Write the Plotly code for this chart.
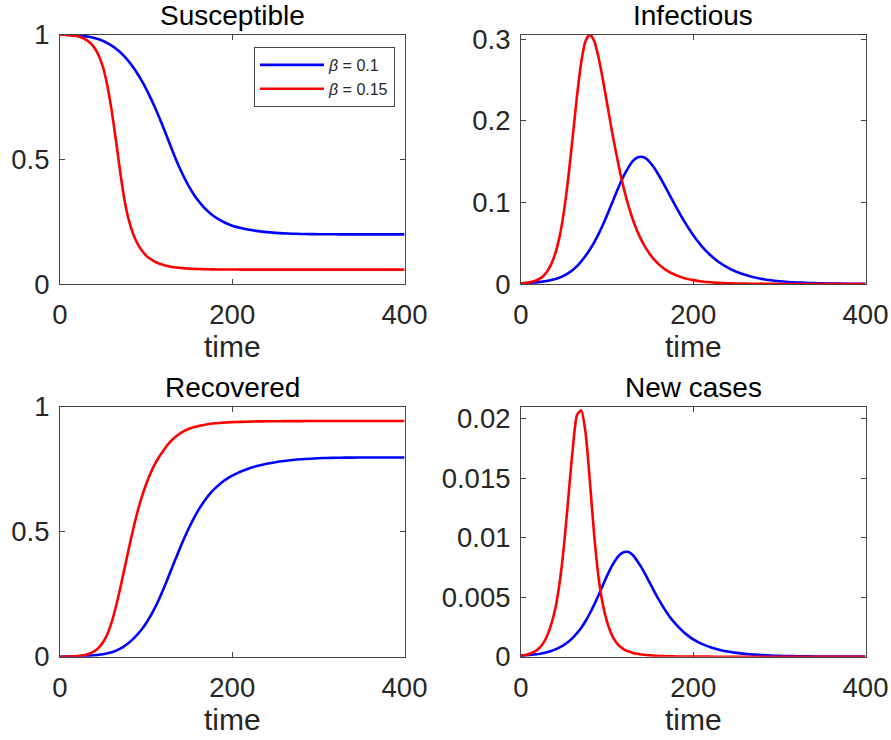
import plotly.graph_objects as go

# time grid (days)
time = [0, 5, 10, 15, 20, 25, 30, 35, 40, 45, 50, 55, 60, 65, 70, 75, 80, 85, 90, 95,
        100, 105, 110, 115, 120, 125, 130, 135, 140, 145, 150, 155, 160, 165, 170, 175,
        180, 185, 190, 195, 200, 210, 220, 230, 240, 250, 260, 270, 280, 290, 300,
        310, 320, 330, 340, 350, 360, 370, 380, 390, 400]

# beta = 0.1 (blue)
S_b01 = [0.999, 0.9988, 0.9982, 0.9972, 0.9961, 0.9946, 0.9925, 0.9896, 0.9857, 0.9806,
         0.974, 0.9657, 0.9555, 0.9432, 0.9286, 0.9114, 0.8914, 0.8685, 0.8426, 0.8137,
         0.7818, 0.7469, 0.7092, 0.669, 0.6268, 0.5833, 0.5393, 0.4963, 0.4568, 0.4213,
         0.3893, 0.3610, 0.3364, 0.3152, 0.2971, 0.2817, 0.2687, 0.2577, 0.2484, 0.2405,
         0.2338, 0.2243, 0.2171, 0.2118, 0.2079, 0.2051, 0.2031, 0.2017, 0.2007, 0.2000,
         0.1996, 0.1993, 0.1991, 0.1989, 0.1988, 0.1988, 0.1988, 0.1988, 0.1988, 0.1988, 0.1988]
I_b01 = [0.00088, 0.00109, 0.0014, 0.00179, 0.0023, 0.00295, 0.00379, 0.00487, 0.00625, 0.0080,
         0.0103, 0.0133, 0.0171, 0.0219, 0.0278, 0.0346, 0.0423, 0.0511, 0.0611, 0.0723,
         0.0845, 0.0973, 0.1103, 0.1228, 0.134, 0.1433, 0.1508, 0.155, 0.156, 0.154,
         0.1487, 0.1418, 0.1333, 0.124, 0.1142, 0.1042, 0.0945, 0.0851, 0.0762, 0.0677,
         0.0598, 0.0462, 0.0352, 0.0266, 0.0200, 0.0150, 0.0112, 0.0083, 0.0062, 0.0046,
         0.0034, 0.00253, 0.00188, 0.0014, 0.00104, 0.00077, 0.00057, 0.00042, 0.00031, 0.00023, 0.00017]
R_b01 = [0.0, 0.0002, 0.0005, 0.001, 0.0015, 0.0022, 0.003, 0.004, 0.0055, 0.0075,
         0.010, 0.0135, 0.018, 0.024, 0.032, 0.043, 0.056, 0.0715, 0.0895, 0.11,
         0.134, 0.162, 0.194, 0.23, 0.27, 0.312, 0.355, 0.398, 0.44, 0.48,
         0.517, 0.551, 0.582, 0.61, 0.634, 0.655, 0.673, 0.689, 0.703, 0.714,
         0.724, 0.741, 0.754, 0.764, 0.772, 0.778, 0.783, 0.787, 0.79, 0.792,
         0.794, 0.795, 0.7957, 0.7962, 0.7965, 0.7968, 0.797, 0.797, 0.797, 0.797, 0.797]
N_b01 = [0.000088, 0.000109, 0.00014, 0.000179, 0.000229, 0.000294, 0.000376, 0.000483, 0.000618, 0.000788,
         0.001, 0.00126, 0.00158, 0.00198, 0.00244, 0.0030, 0.00365, 0.004375, 0.005166, 0.005994,
         0.006812, 0.007546, 0.008144, 0.00858, 0.00879, 0.00879, 0.00853, 0.00805, 0.00748, 0.00683,
         0.00614, 0.00545, 0.00479, 0.00419, 0.00364, 0.00314, 0.00272, 0.00234, 0.00199, 0.00171,
         0.00146, 0.00108, 0.000794, 0.000585, 0.000432, 0.000319, 0.000236, 0.000174, 0.000129, 0.000096,
         0.0000712, 0.0000528, 0.0000392, 0.0000291, 0.0000216, 0.0000161, 0.000012, 0.0000089, 0.0000067,
         0.0000049, 0.0000037]

# beta = 0.15 (red)
S_b015 = [0.9993, 0.9988, 0.9976, 0.9958, 0.9927, 0.9877, 0.9794, 0.9669, 0.9465, 0.9147,
          0.8683, 0.795, 0.695, 0.575, 0.447, 0.335, 0.255, 0.20, 0.162, 0.134,
          0.114, 0.100, 0.090, 0.082, 0.0765, 0.072, 0.0685, 0.066, 0.0642, 0.0628,
          0.0617, 0.0608, 0.0601, 0.0596, 0.0592, 0.0588, 0.0585, 0.0583, 0.0581, 0.058,
          0.0579, 0.0578, 0.0577, 0.0576, 0.0576, 0.0575, 0.0575, 0.0575, 0.0575, 0.0575,
          0.0575, 0.0575, 0.0575, 0.0575, 0.0575, 0.0575, 0.0575, 0.0575, 0.0575, 0.0575, 0.0575]
I_b015 = [0.0007, 0.0012, 0.002, 0.0033, 0.0055, 0.009, 0.0148, 0.024, 0.038, 0.059,
          0.09, 0.131, 0.18, 0.23, 0.272, 0.298, 0.3058, 0.298, 0.278, 0.251,
          0.221, 0.191, 0.163, 0.137, 0.1145, 0.095, 0.0785, 0.0648, 0.0534, 0.0439,
          0.0360, 0.0295, 0.0241, 0.0197, 0.0161, 0.01316, 0.01073, 0.00875, 0.00713, 0.00582,
          0.00474, 0.00315, 0.0021, 0.0014, 0.00093, 0.00062, 0.00041, 0.00027, 0.00018, 0.00012,
          0.00008, 0.000053, 0.000036, 0.000024, 0.000016, 0.00001, 0.000007, 0.000005, 0.000003,
          0.000002, 0.0000014]
R_b015 = [0.0, 0.0001, 0.0005, 0.0012, 0.0025, 0.0045, 0.008, 0.013, 0.022, 0.036,
          0.058, 0.090, 0.138, 0.201, 0.275, 0.354, 0.434, 0.510, 0.579, 0.639,
          0.690, 0.733, 0.769, 0.799, 0.824, 0.848, 0.867, 0.882, 0.894, 0.904,
          0.9115, 0.9175, 0.9222, 0.926, 0.929, 0.9315, 0.9335, 0.935, 0.9363, 0.9373,
          0.9381, 0.9395, 0.9405, 0.9412, 0.9417, 0.942, 0.9422, 0.9424, 0.9425, 0.9426,
          0.9426, 0.9427, 0.9427, 0.9427, 0.9427, 0.9427, 0.9427, 0.9427, 0.9427, 0.9427, 0.9427]
N_b015 = [0.0001, 0.00015, 0.00025, 0.0004, 0.00065, 0.00105, 0.0017, 0.0027, 0.0041, 0.0063,
          0.0094, 0.0134, 0.0174, 0.0203, 0.0207, 0.0188, 0.0147, 0.0102, 0.0067, 0.0044,
          0.0029, 0.0019, 0.00125, 0.00085, 0.0006, 0.00043, 0.00032, 0.00024, 0.00018, 0.00014,
          0.00011, 0.00008, 0.00006, 0.000045, 0.000035, 0.000027, 0.00002, 0.000015, 0.000012,
          0.000009, 0.000007, 0.000004, 0.0000025, 0.0000015, 0.000001, 0.0000006, 0.0000004,
          0.0000002, 0.0000001, 0.0000001, 0.0, 0.0, 0.0, 0.0, 0.0, 0.0, 0.0, 0.0, 0.0, 0.0, 0.0]

series_names = ["<i>β</i> = 0.1", "<i>β</i> = 0.15"]
series_colors = ["#0000FF", "#FF0000"]
panel_titles = ["Susceptible", "Infectious", "Recovered", "New cases"]
x_ticks = [0, 200, 400]
y_ticks = [[0, 0.5, 1], [0, 0.1, 0.2, 0.3], [0, 0.5, 1], [0, 0.005, 0.01, 0.015, 0.02]]
y_ticktext = [["0", "0.5", "1"], ["0", "0.1", "0.2", "0.3"], ["0", "0.5", "1"],
              ["0", "0.005", "0.01", "0.015", "0.02"]]
y_ranges = [[0, 1], [0, 0.3058], [0, 1], [0, 0.02101]]

panels = [(S_b01, S_b015), (I_b01, I_b015), (R_b01, R_b015), (N_b01, N_b015)]

W, H = 891, 740
FONT = "Liberation Sans, Arial, Helvetica, sans-serif"
TXT = "#262626"
FRAME = "#444444"
# axes boxes in pixels: (left, right, top, bottom)
boxes = [(60, 404.5, 34.5, 284), (521, 865.5, 34.5, 284),
         (60, 404.5, 406.7, 656.7), (521, 865.5, 406.7, 656.7)]

fig = go.Figure()
for k, (blue, red) in enumerate(panels):
    ax = "" if k == 0 else str(k + 1)
    for j, ys in enumerate((blue, red)):
        fig.add_trace(go.Scatter(
            x=time, y=ys, mode="lines", name=series_names[j],
            line=dict(color=series_colors[j], width=2.6, shape="spline", smoothing=0.6),
            xaxis="x" + ax, yaxis="y" + ax, showlegend=(k == 0),
        ))

layout = dict(
    template="none",
    width=W, height=H, margin=dict(l=0, r=0, t=0, b=0, autoexpand=False),
    paper_bgcolor="white", plot_bgcolor="white",
    font=dict(family=FONT, color=TXT),
    legend=dict(x=254 / W, y=1 - 47 / H, xanchor="left", yanchor="top",
                bgcolor="white", bordercolor=FRAME, borderwidth=1,
                font=dict(size=16, family=FONT, color=TXT),
                itemwidth=64, tracegroupgap=0),
    annotations=[],
)
for k in range(4):
    l, r, t, b = boxes[k]
    ax = "" if k == 0 else str(k + 1)
    common = dict(ticks="inside", ticklen=5, tickwidth=1, tickcolor=FRAME,
                  showline=True, linecolor=FRAME, linewidth=1, mirror="ticks",
                  showgrid=False, zeroline=False, automargin=False,
                  tickfont=dict(size=27.5, family=FONT, color=TXT))
    layout["xaxis" + ax] = dict(
        common, domain=[l / W, r / W], range=[0, 400], tickvals=x_ticks,
        anchor="y" + ax, ticklabelstandoff=6,
        title=dict(text="time", font=dict(size=30, family=FONT, color=TXT), standoff=4))
    layout["yaxis" + ax] = dict(
        common, domain=[1 - b / H, 1 - t / H], range=y_ranges[k],
        tickvals=y_ticks[k], ticktext=y_ticktext[k], anchor="x" + ax,
        ticklabelstandoff=4)
    layout["annotations"].append(dict(
        text=panel_titles[k], xref="paper", yref="paper",
        x=(l + r) / 2 / W, y=1 - t / H, xanchor="center", yanchor="bottom",
        yshift=2, showarrow=False, font=dict(size=28, family=FONT, color="#000000")))

fig.update_layout(**layout)
fig.write_html("out.html")
